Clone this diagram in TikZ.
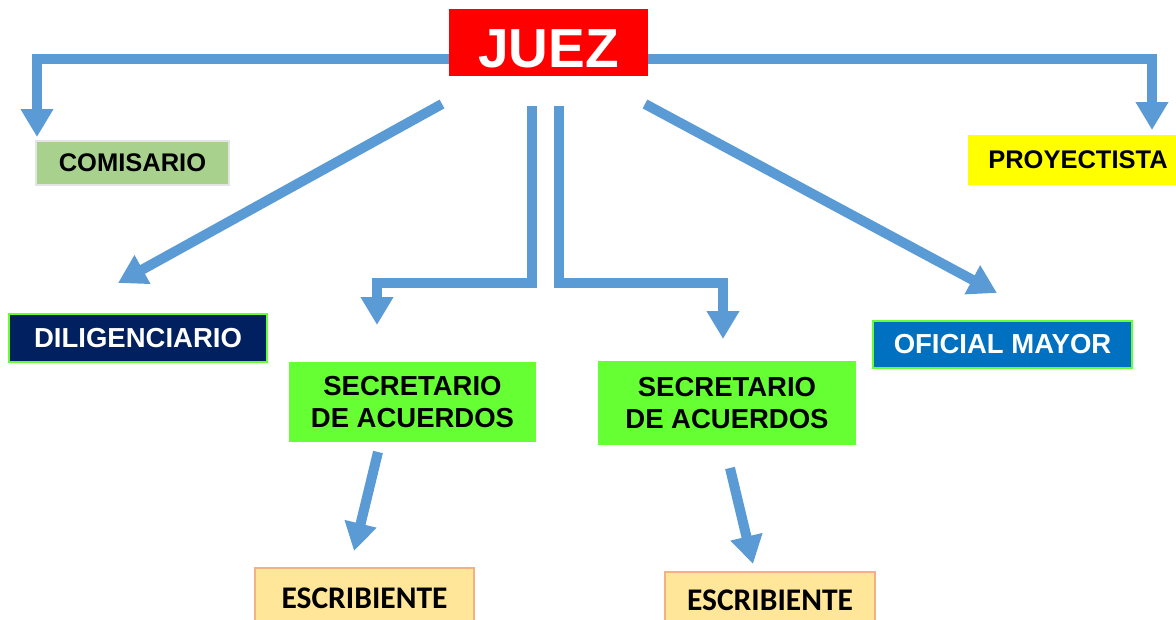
\documentclass[tikz,border=0pt]{standalone}
\usepackage{fontspec}
\setmainfont{Liberation Sans}
\newfontfamily\calfont{Carlito}
\usetikzlibrary{arrows.meta}
\definecolor{arrblue}{HTML}{5B9BD5}
\definecolor{juezred}{HTML}{FF0000}
\definecolor{comgreen}{HTML}{A9D18E}
\definecolor{comborder}{HTML}{E4E4E4}
\definecolor{proyellow}{HTML}{FFFF00}
\definecolor{navyfill}{HTML}{002060}
\definecolor{brightgreen}{HTML}{66FF33}
\definecolor{ofblue}{HTML}{0070C0}
\definecolor{escfill}{HTML}{FFE699}
\definecolor{escborder}{HTML}{F4B183}
\tikzset{
  box/.style={rectangle, inner sep=0pt, font=\fontsize{25.5}{30}\selectfont\bfseries, align=center},
  arr/.style={draw=arrblue, line width=10pt, line join=miter, -{Triangle[width=31pt,length=28pt]}},
}
\begin{document}
\begin{tikzpicture}[x=1pt,y=-1pt]
\useasboundingbox (0,0) rectangle (1176,619);
% nodes
\node[box, fill=juezred, text=white, minimum width=199pt, minimum height=67pt, text height=50pt, text depth=0pt, font=\fontsize{55}{60}\selectfont\bfseries] (juez) at (548.5,42.5) {JUEZ};
\node[box, fill=comgreen, draw=comborder, line width=1.5pt, minimum width=193pt, minimum height=44pt] (comisario) at (132.5,163) {COMISARIO};
\node[box, fill=proyellow, minimum width=220pt, minimum height=50pt] (proyectista) at (1078,160) {PROYECTISTA};
\node[box, fill=navyfill, draw=brightgreen, line width=2pt, text=white, minimum width=258pt, minimum height=48pt, font=\fontsize{27.5}{30}\selectfont\bfseries] (dilig) at (138,338) {DILIGENCIARIO};
\node[box, fill=ofblue, draw=brightgreen, line width=2pt, text=white, minimum width=259pt, minimum height=47pt, font=\fontsize{27.5}{30}\selectfont\bfseries] (oficial) at (1002.5,344.5) {OFICIAL MAYOR};
\node[box, fill=brightgreen, minimum width=247pt, minimum height=80pt, font=\fontsize{27.5}{32}\selectfont\bfseries] (sec1) at (412.5,402) {SECRETARIO\\DE ACUERDOS};
\node[box, fill=brightgreen, minimum width=258pt, minimum height=84pt, font=\fontsize{27.5}{32}\selectfont\bfseries] (sec2) at (727,403) {SECRETARIO\\DE ACUERDOS};
\node[box, fill=escfill, draw=escborder, line width=1.5pt, minimum width=219pt, minimum height=60pt, font=\fontsize{31.5}{34}\calfont\bfseries] (esc1) at (364.5,598) {ESCRIBIENTE};
\node[box, fill=escfill, draw=escborder, line width=1.5pt, minimum width=210pt, minimum height=57pt, font=\fontsize{31.5}{34}\calfont\bfseries] (esc2) at (770,600.5) {ESCRIBIENTE};
% connector coordinates
\coordinate (ctip) at (37,137);
\coordinate (ptip) at (1152,130);
\coordinate (dls) at (442,104);
\coordinate (dlt) at (118,283);
\coordinate (drs) at (645,104);
\coordinate (drt) at (997,293);
\coordinate (bls) at (531.5,106);
\coordinate (blc) at (531.5,283);
\coordinate (blt) at (377,325);
\coordinate (brs) at (558.5,106);
\coordinate (brc) at (558.5,283);
\coordinate (brt) at (723,339);
\coordinate (e1s) at (378,452);
\coordinate (e1t) at (354,551);
\coordinate (e2s) at (730,468);
\coordinate (e2t) at (753,564);
% connectors
\draw[arr] ([yshift=-16.5pt]juez.west) -| (ctip);
\draw[arr] ([yshift=-16.5pt]juez.east) -| (ptip);
\draw[arr] (dls) -- (dlt);
\draw[arr] (drs) -- (drt);
\draw[arr] (bls) -- (blc) -| (blt);
\draw[arr] (brs) -- (brc) -| (brt);
\draw[arr] (e1s) -- (e1t);
\draw[arr] (e2s) -- (e2t);
\end{tikzpicture}
\end{document}
